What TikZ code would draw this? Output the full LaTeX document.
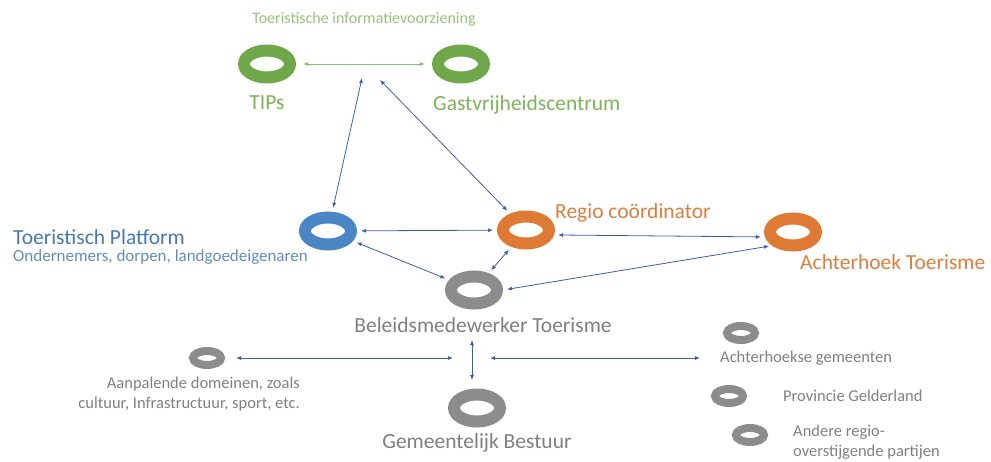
\documentclass[tikz,border=0pt]{standalone}
\usepackage{fontspec}
\setmainfont{Carlito}
\usepackage{xcolor}
\usetikzlibrary{positioning, arrows.meta, calc, shapes.geometric}
\definecolor{ringgreen}{HTML}{6FA84A}
\definecolor{lblgreen}{HTML}{7DB35A}
\definecolor{titlegreen}{HTML}{97C17A}
\definecolor{ringblue}{HTML}{4A85C4}
\definecolor{lblblue}{HTML}{4878B0}
\definecolor{ringorange}{HTML}{DE7A34}
\definecolor{lblorange}{HTML}{D88040}
\definecolor{ringgray}{HTML}{8C8C8C}
\definecolor{lblgray}{HTML}{808080}
\definecolor{linkblue}{HTML}{3C5DA8}
\definecolor{linkgreen}{HTML}{8DBA6A}
\tikzset{
  bigring/.style={
    ellipse,
    draw=#1,
    line width=12pt,
    minimum width=46pt,
    minimum height=27pt,
    inner sep=0pt
  },
  smallring/.style={
    ellipse,
    draw=ringgray,
    line width=8pt,
    minimum width=28pt,
    minimum height=14pt,
    inner sep=0pt
  },
  biglabel/.style={
    font=\fontsize{21.5}{24}\selectfont,
    text=#1,
    text height=16pt,
    text depth=5.5pt,
    inner sep=1pt
  },
  smalllabel/.style={
    font=\fontsize{16.5}{20}\selectfont,
    text=lblgray,
    inner sep=1pt
  },
  linkarrow/.style={
    {Latex[length=5pt,width=4pt]}-{Latex[length=5pt,width=4pt]},
    draw=linkblue,
    line width=0.8pt,
    shorten >=4pt,
    shorten <=4pt
  },
  infoarrow/.style={
    {Latex[length=5pt,width=4pt]}-{Latex[length=5pt,width=4pt]},
    draw=linkgreen,
    line width=0.8pt,
    shorten >=7pt,
    shorten <=7pt
  }
}
\begin{document}
\begin{tikzpicture}[x=1pt, y=-1pt]
  \useasboundingbox (0,0) rectangle (991,461);

  \node[bigring=ringgreen] (tips) at (267,64) {};
  \node[bigring=ringgreen] (gast) at (461,64) {};
  \node[bigring=ringblue] (plat) at (328,231) {};
  \node[bigring=ringorange] (regio) at (526,230) {};
  \node[bigring=ringorange] (acht) at (793,232) {};
  \node[bigring=ringgray] (beleid) at (474,290) {};
  \node[bigring=ringgray] (gem) at (477,408) {};
  \node[smallring] (aanp) at (207,358) {};
  \node[smallring] (agem) at (741,333) {};
  \node[smallring] (prov) at (729,396) {};
  \node[smallring] (andere) at (750,435) {};

  \node[font=\fontsize{16}{19}\selectfont, text=titlegreen, inner sep=1pt,
    above=37pt of $(tips)!0.5!(gast)$] (infotitle)
    {Toeristische informatievoorziening};
  \node[biglabel=lblgreen, below=9pt of tips] (tipslbl) {TIPs};
  \node[biglabel=lblgreen, anchor=west] (gastlbl) at (432,105)
    {Gastvrijheidscentrum};
  \node[biglabel=lblblue, anchor=west] (platlbl) at (12,239)
    {Toeristisch Platform};
  \node[font=\fontsize{17}{20}\selectfont, text=lblblue!85, inner sep=1pt,
    anchor=west] (platsub) at (12,257)
    {Ondernemers, dorpen, landgoedeigenaren};
  \node[biglabel=lblorange, anchor=west] (regiolbl) at (554,213)
    {Regio coördinator};
  \node[biglabel=lblorange, anchor=west] (achtlbl) at (799,264)
    {Achterhoek Toerisme};
  \node[biglabel=lblgray] (beleidlbl) at (483,327)
    {Beleidsmedewerker Toerisme};
  \node[biglabel=lblgray, below=4pt of gem] (gemlbl)
    {Gemeentelijk Bestuur};
  \node[smalllabel, align=right, anchor=east] (aanplbl) at (301,394)
    {Aanpalende domeinen, zoals\\cultuur, Infrastructuur, sport, etc.};
  \node[smalllabel, anchor=west] (agemlbl) at (719,358)
    {Achterhoekse gemeenten};
  \node[smalllabel, anchor=west] (provlbl) at (782,396)
    {Provincie Gelderland};
  \node[smalllabel, align=left, anchor=west] (anderelbl) at (792,442)
    {Andere regio-\\overstijgende partijen};

  \coordinate (infoA) at (362,78);
  \coordinate (infoB) at (380,80);
  \coordinate (vtop) at (472,340);
  \coordinate (vbot) at (472,380);
  \coordinate (hubL) at (453,358);
  \coordinate (hubR) at (490,358);

  \draw[infoarrow] (tips) -- (gast);
  \draw[linkarrow, shorten <=0pt] (infoA) -- (plat);
  \draw[linkarrow, shorten <=0pt] (infoB) -- (regio);
  \draw[linkarrow] (plat) -- (regio);
  \draw[linkarrow] (regio.-10) -- (acht.190);
  \draw[linkarrow] (plat) -- (beleid);
  \draw[linkarrow] (regio) -- (beleid);
  \draw[linkarrow] (beleid.east) -- ([xshift=-20pt, yshift=6pt]acht.south);
  \draw[linkarrow, shorten <=0pt, shorten >=0pt] (vtop) -- (vbot);
  \draw[linkarrow, shorten <=11pt, shorten >=0pt] (aanp) -- (hubL);
  \draw[linkarrow, shorten <=0pt, shorten >=19pt] (hubR) -- (agemlbl.west);
\end{tikzpicture}
\end{document}
